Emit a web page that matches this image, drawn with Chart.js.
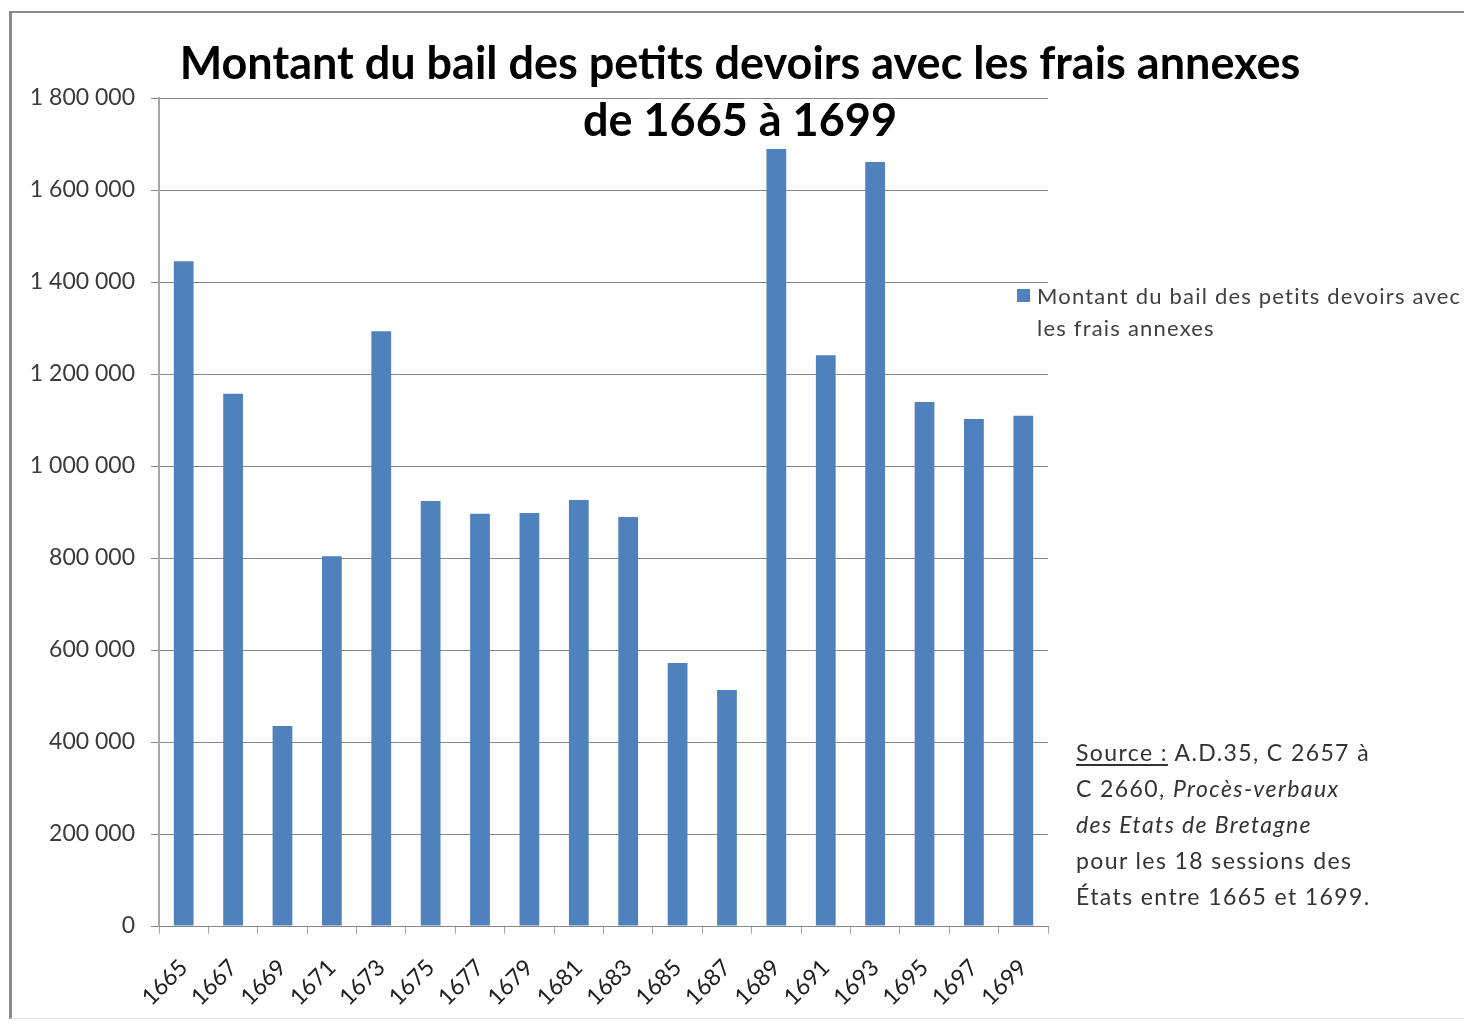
<!DOCTYPE html>
<html lang="fr">
<head>
<meta charset="utf-8">
<title>Montant du bail des petits devoirs</title>
<script src="https://cdn.jsdelivr.net/npm/chart.js@4.4.0/dist/chart.umd.min.js"></script>
<style>
  html, body { margin: 0; padding: 0; background: #fff; overflow: hidden; }
  #page { position: relative; width: 1464px; height: 1024px; overflow: hidden; font-family: Lato, "Open Sans", sans-serif; }
  #frame { position: absolute; left: 9px; top: 11px; width: 1470px; height: 1005px;
           border-left: 3px solid #8a8a8a; border-top: 2px solid #8a8a8a; border-bottom: 1px solid #e4e4e4; }
  #chartCanvas { position: absolute; left: 0; top: 0; }
  #titre { position: absolute; left: 90px; top: 34px; width: 1300px; text-align: center;
           font-weight: 700; font-size: 45px; line-height: 57px; color: #000; white-space: nowrap; }
  #legende { position: absolute; left: 1017px; top: 280px; font-size: 22px; line-height: 32px; color: #404040;
             white-space: nowrap; letter-spacing: 1.2px; }
  #legende .carre { position: absolute; left: 0; top: 9px; width: 13px; height: 13px; background: #4F81BD; }
  #legende .txt { position: absolute; left: 20px; top: 0; }
  #source { position: absolute; left: 1076px; top: 734px; font-size: 23px; line-height: 36px; color: #333;
            white-space: nowrap; letter-spacing: 1.4px; }
  #source u { text-underline-offset: 3px; }
</style>
</head>
<body>
<div id="page">
  <canvas id="chartCanvas" width="1464" height="1024"></canvas>
  <div id="frame"></div>
  <div id="titre">Montant du bail des petits devoirs avec les frais annexes<br>de 1665 à 1699</div>
  <div id="legende"><span class="carre"></span><span class="txt">Montant du bail des petits devoirs avec<br>les frais annexes</span></div>
  <div id="source"><u>Source :</u> A.D.35, C 2657 à<br>C 2660, <i>Procès-verbaux</i><br><i>des Etats de Bretagne</i><br>pour les 18 sessions des<br>États entre 1665 et 1699.</div>
</div>
<script>
// =========================
// Données
// =========================
const annees = ["1665", "1667", "1669", "1671", "1673", "1675", "1677", "1679", "1681",
                "1683", "1685", "1687", "1689", "1691", "1693", "1695", "1697", "1699"];
const montants = [1445000, 1157000, 435000, 804000, 1293000, 924000, 896000, 898000, 926000,
                  889000, 572000, 513000, 1689000, 1241000, 1661000, 1139000, 1102000, 1109000];
const serieNom = "Montant du bail des petits devoirs avec les frais annexes";

// format "1 800 000"
function formatNombre(v) {
    return String(v).replace(/\B(?=(\d{3})+(?!\d))/g, " ");
}

// =========================
// Diagramme
// =========================
const ctx = document.getElementById("chartCanvas").getContext("2d");

new Chart(ctx, {
    type: "bar",
    data: {
        labels: annees,
        datasets: [{
            label: serieNom,
            data: montants,
            backgroundColor: "#4F81BD",
            barPercentage: 0.4,
            categoryPercentage: 1.0
        }]
    },
    options: {
        responsive: false,
        animation: false,
        devicePixelRatio: 1,
        layout: { padding: { left: 0, right: 416, top: 98, bottom: 0 } },
        plugins: {
            legend: { display: false },
            title: { display: false },
            tooltip: { enabled: false }
        },
        scales: {
            y: {
                min: 0,
                max: 1800000,
                afterFit: s => { s.width = 159; },
                ticks: {
                    stepSize: 200000,
                    padding: 16,
                    color: "#3a3a3a",
                    font: { family: "Lato", size: 23 },
                    callback: v => formatNombre(v)
                },
                grid: { color: "#868686", lineWidth: 1, tickLength: 8 },
                border: { color: "#a6a6a6", width: 2 }
            },
            x: {
                afterFit: s => { s.height = 98; },
                ticks: {
                    minRotation: 45,
                    maxRotation: 45,
                    padding: 20,
                    color: "#202020",
                    font: { family: "Lato", size: 23 }
                },
                grid: { drawOnChartArea: false, drawTicks: true, tickLength: 8, color: "#a6a6a6", offset: true },
                border: { color: "#868686", width: 1 }
            }
        }
    }
});
</script>
</body>
</html>
